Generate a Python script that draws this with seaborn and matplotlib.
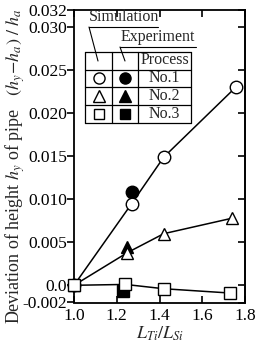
import matplotlib
matplotlib.use('Agg')
import matplotlib.pyplot as plt
import numpy as np
import pandas as pd
import seaborn as sns

# simulation (open markers) and experiment (filled markers)
sim_x_no1 = [1.0, 1.27, 1.42, 1.76]
sim_y_no1 = [0.0, 0.0095, 0.0149, 0.0231]
sim_x_no2 = [1.0, 1.25, 1.42, 1.74]
sim_y_no2 = [0.0, 0.0038, 0.0060, 0.0078]
sim_x_no3 = [1.0, 1.24, 1.42, 1.73]
sim_y_no3 = [0.0, 0.0001, -0.0004, -0.0009]
exp_x = [1.27, 1.25, 1.23]
exp_y = [0.0108, 0.0045, -0.0007]
processes = ['No.1', 'No.2', 'No.3']
markers = ['o', '^', 's']
msizes = [9, 9, 8]

y_ticks = [-0.002, 0.0, 0.005, 0.010, 0.015, 0.020, 0.025, 0.030, 0.032]
y_ticklabels = ['-0.002', '0.0', '0.005', '0.010', '0.015', '0.020', '0.025', '0.030', '0.032']
x_ticks = [1.0, 1.2, 1.4, 1.6, 1.8]

sns.set_theme(style='ticks')
plt.rcParams['font.family'] = ['Liberation Serif', 'DejaVu Serif']
plt.rcParams['mathtext.fontset'] = 'stix'

fig = plt.figure(figsize=(2.59, 3.47), dpi=100)
ax = fig.add_axes([74 / 259, 1 - 302.5 / 347, 171 / 259, 292.5 / 347])

sims = [(sim_x_no1, sim_y_no1), (sim_x_no2, sim_y_no2), (sim_x_no3, sim_y_no3)]
for (xs, ys), m, ms in zip(sims, markers, msizes):
    df = pd.DataFrame(dict(x=xs, y=ys))
    sns.lineplot(data=df, x='x', y='y', ax=ax, color='black', lw=1.1,
                 marker=m, markersize=ms, markerfacecolor='white',
                 markeredgecolor='black', markeredgewidth=1.0,
                 clip_on=False, zorder=3)

for x, y, m, ms in zip(exp_x, exp_y, markers, msizes):
    ax.plot([x], [y], marker=m, markersize=ms, color='black', ls='none', zorder=2)

ax.set_xlim(1.0, 1.8)
ax.set_ylim(-0.002, 0.032)
ax.set_xticks(x_ticks)
ax.set_xticklabels(['1.0', '1.2', '1.4', '1.6', '1.8'])
ax.set_yticks(y_ticks)
ax.set_yticklabels(y_ticklabels)
ax.tick_params(axis='both', labelsize=12.5, color='black', labelcolor='black', width=1.2, length=5, pad=1)
ax.tick_params(axis='x', direction='in', top=True, pad=4)
ax.tick_params(axis='y', direction='out', length=5, pad=0)
# right-hand ticks point inward, without labels
ry = ax.secondary_yaxis('right')
ry.set_yticks(y_ticks)
ry.tick_params(direction='in', length=5, width=1.2, color='black', labelright=False)
for s in ax.spines.values():
    s.set_linewidth(1.3)
    s.set_color('black')
ry.spines['right'].set_linewidth(1.3)
ax.set_xlabel('')
ax.set_ylabel('')

fig.text(160 / 259, 1 - 334 / 347, r'$L_{Ti}/L_{Si}$', ha='center', va='center', fontsize=13)
fig.text(15 / 259, 1 - 166 / 347,
         r'Deviation of height $h_y$ of pipe   $(h_y\!-\!h_a)\ /\ h_a$',
         rotation=90, ha='center', va='center', fontsize=13)

# legend drawn as a small table in axes coordinates
def fx(px):
    return (px - 74) / 171

def fy(py):
    return (302.5 - py) / 292.5

tr = ax.transAxes
cols = [85, 112, 138, 191]
rows = [52, 69.5, 87, 105, 122.5]
for c in cols:
    ax.plot([fx(c), fx(c)], [fy(rows[0]), fy(rows[-1])], transform=tr, color='black', lw=0.9)
for r in rows:
    ax.plot([fx(cols[0]), fx(cols[-1])], [fy(r), fy(r)], transform=tr, color='black', lw=0.9)
ax.text(fx(164.5), fy(60.5), 'Process', transform=tr, ha='center', va='center', fontsize=11.5)
for i, (p, m, ms) in enumerate(zip(processes, markers, msizes)):
    yc = fy((rows[i + 1] + rows[i + 2]) / 2)
    ax.plot([fx(98.5)], [yc], marker=m, markersize=ms - 1, markerfacecolor='white',
            markeredgecolor='black', ls='none', transform=tr)
    ax.plot([fx(125)], [yc], marker=m, markersize=ms - 1, color='black', ls='none', transform=tr)
    ax.text(fx(164.5), yc, p, transform=tr, ha='center', va='center', fontsize=11.5)

ax.text(fx(124), fy(17), 'Simulation', transform=tr, ha='center', va='center', fontsize=11.5)
ax.plot([fx(89), fx(158)], [fy(27), fy(27)], transform=tr, color='black', lw=0.8)
ax.plot([fx(89), fx(98)], [fy(27), fy(61)], transform=tr, color='black', lw=0.8)
ax.text(fx(158), fy(37), 'Experiment', transform=tr, ha='center', va='center', fontsize=11.5)
ax.plot([fx(120), fx(196)], [fy(47), fy(47)], transform=tr, color='black', lw=0.8)
ax.plot([fx(120), fx(125)], [fy(47), fy(61)], transform=tr, color='black', lw=0.8)

fig.savefig('out.png', dpi=100)
